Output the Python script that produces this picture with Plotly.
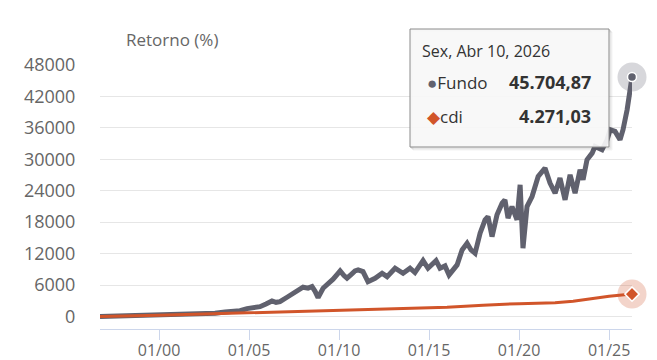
import plotly.graph_objects as go

# ---------------- data ----------------
fundo_dates = [
    "1996-09-20", "1997-11-01", "1998-12-10", "2000-01-01", "2001-03-01", "2002-04-10",
    "2003-02-10", "2003-09-01", "2004-03-20", "2004-07-01", "2004-11-20", "2005-03-20",
    "2005-08-10", "2005-12-10", "2006-04-10", "2006-07-01", "2006-09-20", "2007-02-10",
    "2007-05-22", "2007-09-01", "2008-01-01", "2008-04-10", "2008-07-01", "2008-09-01",
    "2008-11-01", "2009-02-10", "2009-05-22", "2009-09-01", "2009-11-20", "2010-01-22",
    "2010-04-10", "2010-06-10", "2010-09-01", "2010-11-20", "2011-01-22", "2011-05-01",
    "2011-08-10", "2012-01-01", "2012-05-22", "2012-09-01", "2013-02-10", "2013-07-22",
    "2013-12-10", "2014-03-20", "2014-09-01", "2014-12-10", "2015-05-22", "2015-08-10",
    "2015-11-20", "2016-02-10", "2016-07-22", "2016-11-01", "2017-02-10", "2017-05-01",
    "2017-07-22", "2017-11-01", "2018-02-10", "2018-04-10", "2018-07-01", "2018-10-10",
    "2019-01-22", "2019-03-20", "2019-05-22", "2019-08-10", "2019-11-20", "2020-01-22",
    "2020-03-20", "2020-06-10", "2020-09-20", "2021-01-22", "2021-06-10", "2021-09-20",
    "2022-01-01", "2022-04-10", "2022-07-22", "2022-11-01", "2023-02-10", "2023-05-22",
    "2023-07-22", "2023-10-10", "2024-01-22", "2024-03-20", "2024-08-10", "2024-11-20",
    "2025-01-22", "2025-05-01", "2025-08-10", "2025-10-10", "2026-01-01", "2026-03-01",
    "2026-04-10",
]
fundo_values = [
    0, 80, 150, 250, 350, 450,
    600, 850, 1000, 1100, 1500, 1750,
    1870, 2400, 2960, 2700, 2830, 3670,
    4300, 5060, 5580, 5400, 5700, 4800,
    3600, 5390, 6200, 7110, 8000, 8700,
    7800, 7300, 8000, 8700, 8900, 8560,
    6650, 7300, 8250, 7600, 9210, 8250,
    9210, 8380, 10670, 9210, 10670, 9210,
    9650, 7930, 9840, 12710, 13980, 12700,
    12070, 15900, 18440, 19070, 15250, 19400,
    21630, 22260, 18770, 20990, 18440, 25130,
    13030, 20990, 22900, 26720, 28320, 25450,
    23540, 26410, 22260, 27040, 23540, 28000,
    26090, 29900, 31180, 32450, 31820, 33730,
    35640, 35320, 33730, 35640, 39460, 43910,
    45704.87,
]

cdi_dates = [
    "1996-09-20", "1998-01-01", "2000-01-01", "2002-01-01", "2004-01-01", "2006-01-01",
    "2008-01-01", "2010-01-01", "2012-01-01", "2014-01-01", "2016-01-01", "2018-01-01",
    "2020-01-01", "2022-01-01", "2023-01-01", "2024-01-01", "2025-01-01", "2026-04-10",
]
cdi_values = [
    0, 60, 220, 420, 620, 800,
    950, 1100, 1300, 1480, 1750, 2150,
    2450, 2600, 2900, 3400, 3850, 4271.03,
]

x_tick_vals = ["2000-01-01", "2005-01-01", "2010-01-01", "2015-01-01", "2020-01-01", "2025-01-01"]
x_tick_text = ["01/00", "01/05", "01/10", "01/15", "01/20", "01/25"]
y_tick_vals = [0, 6000, 12000, 18000, 24000, 30000, 36000, 42000, 48000]
y_tick_text = ["0", "6000", "12000", "18000", "24000", "30000", "36000", "42000", "48000"]

tooltip_header = "Sex, Abr 10, 2026"
tooltip_fundo = "45.704,87"
tooltip_cdi = "4.271,03"

# ---------------- style ----------------
FUNDO_COLOR = "#60616e"
CDI_COLOR = "#d1552a"
FONT = "Open Sans"
OFF = 8  # page body margin
W, H = 657 - OFF, 360 - OFF
# plot area in screen pixels
SX0, SX1, SY0, SY1 = 100, 632, 65, 329
L, R, T, B = SX0 - OFF, W - (SX1 - OFF), SY0 - OFF, H - (SY1 - OFF)


def px(x):
    return (x - SX0) / (SX1 - SX0)


def py(y):
    return (SY1 - y) / (SY1 - SY0)


fig = go.Figure()

fig.add_trace(go.Scatter(x=fundo_dates, y=fundo_values, mode="lines", name="Fundo",
                         line=dict(color=FUNDO_COLOR, width=5), hoverinfo="skip"))
fig.add_trace(go.Scatter(x=cdi_dates, y=cdi_values, mode="lines", name="cdi",
                         line=dict(color=CDI_COLOR, width=3), hoverinfo="skip"))

# hover halos + markers at last point
fig.add_trace(go.Scatter(x=[fundo_dates[-1]], y=[fundo_values[-1]], mode="markers",
                         marker=dict(size=29, color="rgba(96,97,110,0.25)"),
                         cliponaxis=False, hoverinfo="skip"))
fig.add_trace(go.Scatter(x=[fundo_dates[-1]], y=[fundo_values[-1]], mode="markers",
                         marker=dict(size=9, color=FUNDO_COLOR, line=dict(color="white", width=1.5)),
                         cliponaxis=False, hoverinfo="skip"))
fig.add_trace(go.Scatter(x=[cdi_dates[-1]], y=[cdi_values[-1]], mode="markers",
                         marker=dict(size=29, color="rgba(209,85,42,0.25)"),
                         cliponaxis=False, hoverinfo="skip"))
fig.add_trace(go.Scatter(x=[cdi_dates[-1]], y=[cdi_values[-1]], mode="markers",
                         marker=dict(size=11, symbol="diamond", color=CDI_COLOR,
                                     line=dict(color="white", width=1.5)),
                         cliponaxis=False, hoverinfo="skip"))

# tooltip box (shadow + box)
tx0, tx1, ty0, ty1 = 410, 609, 29, 147
for off, a in [(3, 0.05), (2, 0.08), (1, 0.12)]:
    fig.add_shape(type="rect", xref="paper", yref="paper",
                  x0=px(tx0 + off), x1=px(tx1 + off), y0=py(ty1 + off), y1=py(ty0 + off),
                  line=dict(color=f"rgba(0,0,0,{a})", width=1), fillcolor="rgba(0,0,0,0)",
                  layer="above")
fig.add_shape(type="rect", xref="paper", yref="paper",
              x0=px(tx0), x1=px(tx1), y0=py(ty1), y1=py(ty0),
              line=dict(color="#8a8a8a", width=1), fillcolor="rgba(247,247,247,0.92)",
              layer="above")

annotations = [
    dict(text="Retorno (%)", x=px(172), y=py(40), xref="paper", yref="paper",
         showarrow=False, xanchor="center", yanchor="middle",
         font=dict(family=FONT, size=17, color="#666666")),
    dict(text=tooltip_header, x=px(420), y=py(51), xref="paper", yref="paper",
         showarrow=False, xanchor="left", yanchor="middle",
         font=dict(family=FONT, size=16, color="#333333")),
    dict(text=f'<span style="color:{FUNDO_COLOR}">●</span>Fundo', x=px(425), y=py(82),
         xref="paper", yref="paper", showarrow=False, xanchor="left", yanchor="middle",
         font=dict(family=FONT, size=17, color="#333333")),
    dict(text=f"<b>{tooltip_fundo}</b>", x=px(593), y=py(82), xref="paper", yref="paper",
         showarrow=False, xanchor="right", yanchor="middle",
         font=dict(family=FONT, size=18, color="#333333")),
    dict(text=f'<span style="color:{CDI_COLOR}">◆</span>cdi', x=px(425), y=py(116),
         xref="paper", yref="paper", showarrow=False, xanchor="left", yanchor="middle",
         font=dict(family=FONT, size=17, color="#333333")),
    dict(text=f"<b>{tooltip_cdi}</b>", x=px(593), y=py(116), xref="paper", yref="paper",
         showarrow=False, xanchor="right", yanchor="middle",
         font=dict(family=FONT, size=18, color="#333333")),
]

fig.update_layout(
    width=W, height=H, autosize=False,
    margin=dict(l=L, r=R, t=T, b=B, pad=0, autoexpand=False),
    paper_bgcolor="white", plot_bgcolor="white",
    showlegend=False, hovermode=False,
    font=dict(family=FONT, color="#666666"),
    annotations=annotations,
    xaxis=dict(type="date", range=["1996-09-20", "2026-04-10"], automargin=False,
               tickmode="array", tickvals=x_tick_vals, ticktext=x_tick_text,
               showgrid=False, zeroline=False,
               showline=True, linecolor="#ccd6eb", linewidth=1,
               ticks="outside", ticklen=10, tickcolor="#ccd6eb", tickwidth=1,
               ticklabelstandoff=-3,
               tickfont=dict(family=FONT, size=16, color="#666666")),
    yaxis=dict(range=[-2390, 48000], automargin=False,
               tickmode="array", tickvals=y_tick_vals, ticktext=y_tick_text,
               showgrid=True, gridcolor="#e6e6e6", gridwidth=1, zeroline=False,
               showline=False, ticks="outside", ticklen=20, tickcolor="rgba(0,0,0,0)",
               tickfont=dict(family=FONT, size=18, color="#666666")),
)

fig.write_html("out.html")
